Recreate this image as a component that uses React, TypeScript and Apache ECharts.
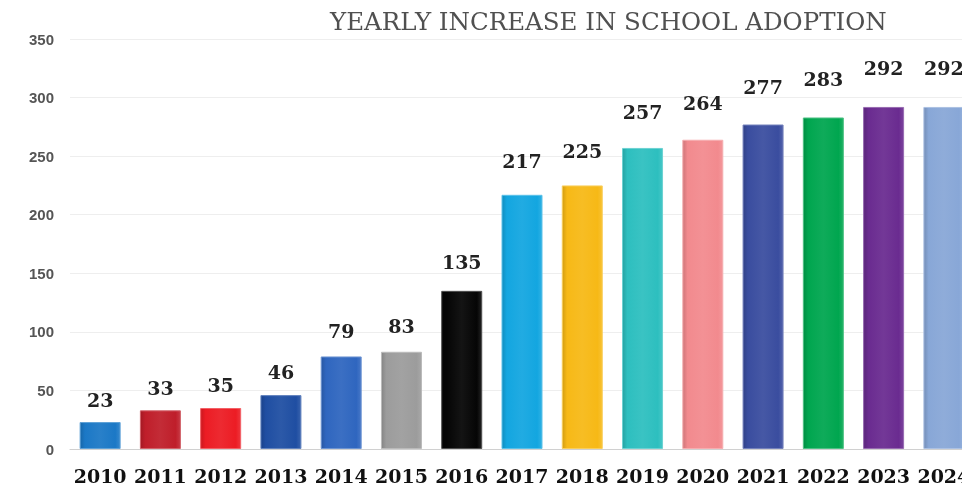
import React, { useEffect, useRef } from "react";
import * as echarts from "echarts";

const years = ["2010","2011","2012","2013","2014","2015","2016","2017","2018","2019","2020","2021","2022","2023","2024"];
const adoptions = [23, 33, 35, 46, 79, 83, 135, 217, 225, 257, 264, 277, 283, 292, 292];
const yTicks = { min: 0, max: 350, interval: 50 };
const titleText = "YEARLY INCREASE IN SCHOOL ADOPTION";

const palette = [
  "#1b78c6", "#bf1e2a", "#ec1c24", "#1f4ea2", "#2f66bf", "#9c9c9c", "#050505",
  "#13a6e0", "#f7b916", "#2dbfbf", "#f28a8e", "#3a4d9f", "#00a64f", "#6a2b90", "#88a7d7",
];

function shade(hex: string, amt: number) {
  const n = parseInt(hex.slice(1), 16);
  let r = (n >> 16) & 255, g = (n >> 8) & 255, b = n & 255;
  const f = (c: number) => Math.max(0, Math.min(255, Math.round(amt >= 0 ? c + (255 - c) * amt : c * (1 + amt))));
  r = f(r); g = f(g); b = f(b);
  return `rgb(${r},${g},${b})`;
}

export default function App() {
  const ref = useRef<HTMLDivElement>(null);
  useEffect(() => {
    if (!ref.current) return;
    const chart = echarts.init(ref.current, undefined, { renderer: "svg" });
    const data = adoptions.map((v, i) => {
      const c = palette[i];
      return {
        value: v,
        itemStyle: {
          color: new echarts.graphic.LinearGradient(0, 0, 1, 0, [
            { offset: 0, color: shade(c, -0.15) },
            { offset: 0.12, color: c },
            { offset: 0.5, color: shade(c, 0.06) },
            { offset: 0.88, color: c },
            { offset: 1, color: shade(c, 0.12) },
          ]),
          borderColor: shade(c, 0.3),
          borderWidth: 1,
        },
        label: { distance: 11 + v * 0.062 },
      };
    });
    chart.setOption({
      animation: false,
      title: {
        text: titleText,
        left: 325,
        top: 4,
        textStyle: {
          fontFamily: "DejaVu Serif",
          fontWeight: "normal",
          fontSize: 24.5,
          color: "#505050",
        },
      },
      grid: { left: 70, right: 6, top: 39, bottom: 39, containLabel: false },
      xAxis: {
        type: "category",
        data: years,
        axisTick: { show: false },
        axisLine: { lineStyle: { color: "#d0d0d0", width: 1 } },
        axisLabel: {
          interval: 0,
          margin: 17,
          fontFamily: "DejaVu Serif",
          fontWeight: "bold",
          fontSize: 19,
          color: "#111111",
        },
      },
      yAxis: {
        type: "value",
        min: yTicks.min,
        max: yTicks.max,
        interval: yTicks.interval,
        axisLine: { show: false },
        axisTick: { show: false },
        splitLine: { lineStyle: { color: "#eeeeee", width: 1 } },
        axisLabel: {
          margin: 16,
          fontFamily: "Liberation Sans",
          fontWeight: "bold",
          fontSize: 15,
          color: "#555555",
        },
      },
      series: [
        {
          type: "bar",
          data,
          barWidth: 41,
          label: {
            show: true,
            position: "top",
            fontFamily: "DejaVu Serif",
            fontWeight: "bold",
            fontSize: 19,
            color: "#222222",
          },
        },
      ],
    });
    return () => chart.dispose();
  }, []);
  return (
    <div style={{ position: "fixed", left: 0, top: 0, width: 962, height: 488, overflow: "hidden" }}>
      <div ref={ref} style={{ width: 980, height: 488 }} />
    </div>
  );
}
